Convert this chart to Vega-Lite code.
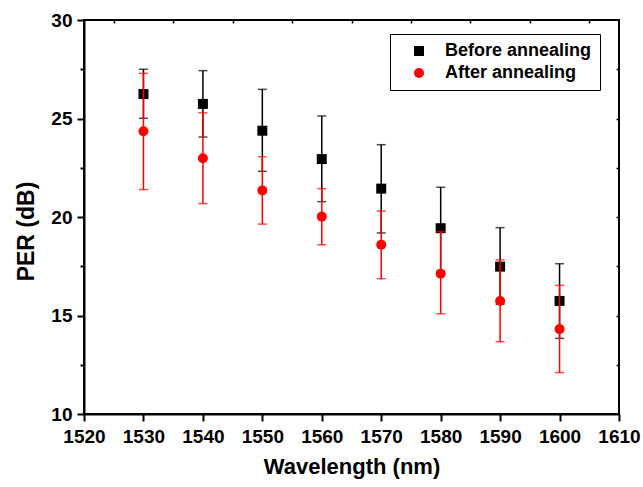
{
  "$schema": "https://vega.github.io/schema/vega-lite/v6.json",
  "width": 535,
  "height": 394,
  "autosize": {"type": "none"},
  "padding": {"left": 84, "top": 20, "right": 24, "bottom": 73},
  "background": "white",
  "config": {
    "font": "Liberation Sans",
    "view": {"stroke": "black", "strokeWidth": 2},
    "axis": {
      "grid": false,
      "domainColor": "black",
      "domainWidth": 2,
      "tickColor": "black",
      "tickWidth": 2,
      "labelColor": "black",
      "titleColor": "black",
      "labelFont": "Liberation Sans",
      "labelFontSize": 19,
      "labelFontWeight": "bold",
      "titleFont": "Liberation Sans",
      "titleFontWeight": "bold",
      "labelOverlap": false,
      "labelFlush": false
    },
    "legend": {
      "labelFont": "Liberation Sans",
      "labelFontSize": 18,
      "labelFontWeight": "bold",
      "labelColor": "black"
    }
  },
  "data": {
    "values": [
      {"wl": 1530, "series": "Before annealing", "per": 26.24, "lo": 25.01, "hi": 27.5},
      {"wl": 1540, "series": "Before annealing", "per": 25.74, "lo": 24.06, "hi": 27.43},
      {"wl": 1550, "series": "Before annealing", "per": 24.38, "lo": 22.32, "hi": 26.48},
      {"wl": 1560, "series": "Before annealing", "per": 22.94, "lo": 20.78, "hi": 25.13},
      {"wl": 1570, "series": "Before annealing", "per": 21.44, "lo": 19.19, "hi": 23.67},
      {"wl": 1580, "series": "Before annealing", "per": 19.43, "lo": 17.26, "hi": 21.51},
      {"wl": 1590, "series": "Before annealing", "per": 17.48, "lo": 15.57, "hi": 19.46},
      {"wl": 1600, "series": "Before annealing", "per": 15.74, "lo": 13.84, "hi": 17.63},
      {"wl": 1530, "series": "After annealing", "per": 24.35, "lo": 21.39, "hi": 27.29},
      {"wl": 1540, "series": "After annealing", "per": 22.98, "lo": 20.68, "hi": 25.29},
      {"wl": 1550, "series": "After annealing", "per": 21.35, "lo": 19.64, "hi": 23.06},
      {"wl": 1560, "series": "After annealing", "per": 20.02, "lo": 18.59, "hi": 21.44},
      {"wl": 1570, "series": "After annealing", "per": 18.59, "lo": 16.87, "hi": 20.3},
      {"wl": 1580, "series": "After annealing", "per": 17.12, "lo": 15.09, "hi": 19.25},
      {"wl": 1590, "series": "After annealing", "per": 15.74, "lo": 13.67, "hi": 17.82},
      {"wl": 1600, "series": "After annealing", "per": 14.31, "lo": 12.1, "hi": 16.53}
    ]
  },
  "resolve": {"axis": {"x": "independent", "y": "independent"}},
  "layer": [
    {
      "transform": [{"filter": "datum.series === 'Before annealing'"}],
      "layer": [
        {
          "mark": {"type": "rule", "color": "black", "strokeWidth": 1.5},
          "encoding": {
            "x": {
              "field": "wl", "type": "quantitative",
              "scale": {"domain": [1520, 1610], "nice": false, "zero": false},
              "axis": {
                "orient": "bottom",
                "title": "Wavelength (nm)",
                "titleFontSize": 22,
                "titlePadding": 10,
                "values": [1520, 1525, 1530, 1535, 1540, 1545, 1550, 1555, 1560, 1565, 1570, 1575, 1580, 1585, 1590, 1595, 1600, 1605, 1610],
                "labelExpr": "datum.value % 10 === 0 ? datum.label : ''",
                "format": "d",
                "labelPadding": 6,
                "tickSize": {"condition": {"test": "datum.value % 10 === 0", "value": 7}, "value": 4}
              }
            },
            "y": {
              "field": "lo", "type": "quantitative",
              "scale": {"domain": [10, 30], "nice": false, "zero": false},
              "axis": {
                "orient": "left",
                "title": "PER (dB)",
                "titleFontSize": 23,
                "titlePadding": 12,
                "titleY": 211,
                "values": [10, 12.5, 15, 17.5, 20, 22.5, 25, 27.5, 30],
                "labelExpr": "datum.value % 5 === 0 ? datum.label : ''",
                "labelPadding": 5,
                "tickSize": {"condition": {"test": "datum.value % 5 === 0", "value": 7}, "value": 4}
              }
            },
            "y2": {"field": "hi"}
          }
        },
        {
          "mark": {"type": "tick", "color": "black", "thickness": 1.5, "size": 9, "orient": "horizontal"},
          "encoding": {
            "x": {"field": "wl", "type": "quantitative"},
            "y": {"field": "lo", "type": "quantitative"}
          }
        },
        {
          "mark": {"type": "tick", "color": "black", "thickness": 1.5, "size": 9, "orient": "horizontal"},
          "encoding": {
            "x": {"field": "wl", "type": "quantitative"},
            "y": {"field": "hi", "type": "quantitative"}
          }
        },
        {
          "mark": {"type": "point", "filled": true, "size": 100, "opacity": 1},
          "encoding": {
            "x": {"field": "wl", "type": "quantitative"},
            "y": {"field": "per", "type": "quantitative"},
            "color": {
              "field": "series", "type": "nominal",
              "scale": {"domain": ["Before annealing", "After annealing"], "range": ["black", "#ff0000"]},
              "legend": {
                "title": null,
                "orient": "none",
                "legendX": 306,
                "legendY": 14,
                "strokeColor": "black",
                "padding": 8,
                "symbolSize": 100,
                "symbolOffset": 12,
                "labelOffset": 17,
                "rowPadding": 4,
                "symbolStrokeWidth": 0
              }
            },
            "shape": {
              "field": "series", "type": "nominal",
              "scale": {"domain": ["Before annealing", "After annealing"], "range": ["square", "circle"]}
            }
          }
        }
      ]
    },
    {
      "transform": [{"filter": "datum.series === 'After annealing'"}],
      "layer": [
        {
          "mark": {"type": "rule", "color": "#ff0000", "strokeWidth": 1.5},
          "encoding": {
            "x": {
              "field": "wl", "type": "quantitative",
              "axis": {
                "orient": "top",
                "title": null,
                "labels": false,
                "domain": false,
                "values": [1525, 1530, 1535, 1540, 1545, 1550, 1555, 1560, 1565, 1570, 1575, 1580, 1585, 1590, 1595, 1600, 1605],
                "tickSize": -3,
                "tickWidth": 1.5
              }
            },
            "y": {
              "field": "lo", "type": "quantitative",
              "axis": {
                "orient": "right",
                "title": null,
                "labels": false,
                "domain": false,
                "values": [12.5, 15, 17.5, 20, 22.5, 25, 27.5],
                "tickSize": -3,
                "tickWidth": 1.5
              }
            },
            "y2": {"field": "hi"}
          }
        },
        {
          "mark": {"type": "tick", "color": "#ff0000", "thickness": 1.5, "size": 9, "orient": "horizontal"},
          "encoding": {
            "x": {"field": "wl", "type": "quantitative"},
            "y": {"field": "lo", "type": "quantitative"}
          }
        },
        {
          "mark": {"type": "tick", "color": "#ff0000", "thickness": 1.5, "size": 9, "orient": "horizontal"},
          "encoding": {
            "x": {"field": "wl", "type": "quantitative"},
            "y": {"field": "hi", "type": "quantitative"}
          }
        },
        {
          "mark": {"type": "point", "filled": true, "size": 100, "opacity": 1},
          "encoding": {
            "x": {"field": "wl", "type": "quantitative"},
            "y": {"field": "per", "type": "quantitative"},
            "color": {"field": "series", "type": "nominal"},
            "shape": {"field": "series", "type": "nominal"}
          }
        }
      ]
    }
  ]
}
